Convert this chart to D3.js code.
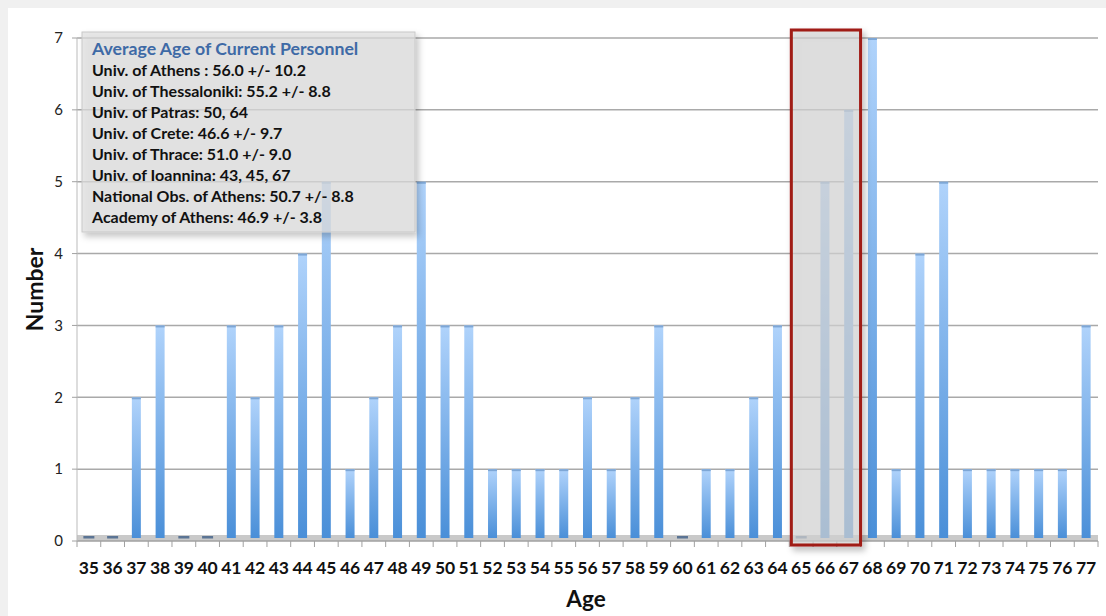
<!DOCTYPE html>
<html>
<head>
<meta charset="utf-8">
<script src="https://cdn.jsdelivr.net/npm/d3@7"></script>
<style>
  body { margin: 0; background: #f0f0f0; }
  svg { display: block; }
</style>
</head>
<body>
<svg id="chart" width="1106" height="616"></svg>
<script>
// ages on the x axis
var ages = d3.range(35, 78).map(String);
// number of personnel per age
var counts = [0, 0, 2, 3, 0, 0, 3, 2, 3, 4, 5, 1, 2, 3, 5, 3, 3, 1, 1, 1, 1, 2, 1, 2, 3, 0,
              1, 1, 2, 3, 0, 5, 6, 7, 1, 4, 5, 1, 1, 1, 1, 1, 3];
var yTicks = [0, 1, 2, 3, 4, 5, 6, 7];
var legendTitle = "Average Age of Current Personnel";
var legendLines = [
  "Univ. of Athens : 56.0 +/- 10.2",
  "Univ. of Thessaloniki: 55.2 +/- 8.8",
  "Univ. of Patras: 50, 64",
  "Univ. of Crete: 46.6 +/- 9.7",
  "Univ. of Thrace: 51.0 +/- 9.0",
  "Univ. of Ioannina: 43, 45, 67",
  "National Obs. of Athens: 50.7 +/- 8.8",
  "Academy of Athens: 46.9 +/- 3.8"
];
var highlight = ["65", "67"];

var data = ages.map(function(a, i){ return {age: a, n: counts[i]}; });

var svg = d3.select("#chart");
var font = "Lato, 'Open Sans', sans-serif";

// white card
svg.append("rect").attr("x", 8).attr("y", 8).attr("width", 1098).attr("height", 608).attr("fill", "#fff");

var margin = {top: 38, left: 77, right: 8, bottom: 75},
    width = 1106 - margin.left - margin.right,
    height = 616 - margin.top - margin.bottom;

var g = svg.append("g").attr("transform", "translate(" + margin.left + "," + margin.top + ")");

var x = d3.scaleBand().domain(ages).range([0, width]).paddingInner(0).paddingOuter(0);
var y = d3.scaleLinear().domain([0, 7]).range([height, 0]);

var defs = svg.append("defs");
var grad = defs.append("linearGradient").attr("id", "barGrad")
  .attr("x1", 0).attr("y1", 0).attr("x2", 0).attr("y2", 1);
grad.append("stop").attr("offset", "0%").attr("stop-color", "#b0d3fb");
grad.append("stop").attr("offset", "100%").attr("stop-color", "#4a8fd8");
var shadow = defs.append("filter").attr("id", "shadow").attr("x", "-10%").attr("y", "-10%").attr("width", "130%").attr("height", "130%");
shadow.append("feDropShadow").attr("dx", 3).attr("dy", 4).attr("stdDeviation", 3)
  .attr("flood-color", "#000").attr("flood-opacity", 0.3);

// gridlines
g.append("g").selectAll("line").data(yTicks.slice(1)).enter().append("line")
  .attr("x1", 0).attr("x2", width)
  .attr("y1", function(d){ return y(d); }).attr("y2", function(d){ return y(d); })
  .attr("stroke", "#a9a9a9").attr("stroke-width", 1.5);

// floor
g.append("rect").attr("x", 0).attr("y", height - 6).attr("width", width).attr("height", 6)
  .attr("fill", "#c9c9c9");

// bars
var bw = 9;
var bars = g.append("g").selectAll("g").data(data).enter().append("g");
bars.filter(function(d){ return d.n > 0; }).append("rect")
  .attr("x", function(d){ return x(d.age) + x.bandwidth() / 2 - bw / 2; })
  .attr("y", function(d){ return y(d.n); })
  .attr("width", bw)
  .attr("height", function(d){ return y(0) - y(d.n) - 3; })
  .attr("fill", "url(#barGrad)");
bars.filter(function(d){ return d.n > 0; }).append("rect")
  .attr("x", function(d){ return x(d.age) + x.bandwidth() / 2 - bw / 2; })
  .attr("y", function(d){ return y(d.n); })
  .attr("width", bw).attr("height", 2)
  .attr("fill", "#7ea7d6");
bars.filter(function(d){ return d.n == 0; }).append("rect")
  .attr("x", function(d){ return x(d.age) + x.bandwidth() / 2 - bw / 2 - 1; })
  .attr("y", y(0) - 5).attr("width", bw + 2).attr("height", 2.5)
  .attr("fill", "#5b7494");

// x axis
var xAxis = g.append("g").attr("transform", "translate(0," + height + ")");
xAxis.append("line").attr("x1", 0).attr("x2", width).attr("stroke", "#a0a0a0").attr("stroke-width", 1.5);
xAxis.selectAll(".tk").data(ages.concat(["end"])).enter().append("line")
  .attr("x1", function(d){ return d == "end" ? width : x(d); })
  .attr("x2", function(d){ return d == "end" ? width : x(d); })
  .attr("y1", 0).attr("y2", 6).attr("stroke", "#a0a0a0");
xAxis.selectAll("text").data(ages).enter().append("text")
  .attr("x", function(d){ return x(d) + x.bandwidth() / 2; })
  .attr("y", 33)
  .attr("text-anchor", "middle")
  .attr("font-family", font).attr("font-weight", "bold").attr("font-size", 17.5)
  .attr("fill", "#111")
  .text(function(d){ return d; });

// y axis
var yAxis = g.append("g");
yAxis.append("line").attr("x1", 0).attr("x2", 0).attr("y1", 0).attr("y2", height).attr("stroke", "#bbb");
yAxis.selectAll("line.tk").data(yTicks).enter().append("line")
  .attr("x1", -5).attr("x2", 0)
  .attr("y1", function(d){ return y(d); }).attr("y2", function(d){ return y(d); })
  .attr("stroke", "#a0a0a0");
yAxis.selectAll("text").data(yTicks).enter().append("text")
  .attr("x", -14).attr("y", function(d){ return y(d); }).attr("dy", "0.35em")
  .attr("text-anchor", "end")
  .attr("font-family", font).attr("font-size", 15).attr("fill", "#222")
  .text(function(d){ return d; });

// axis titles
svg.append("text").attr("transform", "translate(43," + (margin.top + height / 2) + ") rotate(-90)")
  .attr("text-anchor", "middle").attr("font-family", font).attr("font-weight", "bold")
  .attr("font-size", 23).attr("fill", "#111").text("Number");
svg.append("text").attr("x", 586).attr("y", 607)
  .attr("text-anchor", "middle").attr("font-family", font).attr("font-weight", "bold")
  .attr("font-size", 22.5).attr("fill", "#111").text("Age");

// highlight box
var hx0 = x(highlight[0]) + 2, hx1 = x(highlight[1]) + x.bandwidth();
g.append("rect").attr("x", hx0).attr("y", -8).attr("width", hx1 - hx0).attr("height", height + 12)
  .attr("fill", "#d9d9d9").attr("fill-opacity", 0.65)
  .attr("stroke", "#a01b12").attr("stroke-width", 3)
  .attr("filter", "url(#shadow)");

// legend box
var lg = svg.append("g").attr("transform", "translate(82,32)");
lg.append("rect").attr("width", 333).attr("height", 200)
  .attr("fill", "#e0e0e0").attr("fill-opacity", 0.7)
  .attr("stroke", "#c8c8c8")
  .attr("filter", "url(#shadow)");
lg.append("text").attr("x", 10).attr("y", 23)
  .attr("font-family", font).attr("font-weight", "bold").attr("font-size", 17.7)
  .attr("fill", "#3e6aa6").text(legendTitle);
lg.selectAll("text.l").data(legendLines).enter().append("text")
  .attr("class", "l")
  .attr("x", 10).attr("y", function(d, i){ return 44 + i * 21; })
  .attr("font-family", font).attr("font-weight", "bold").attr("font-size", 16)
  .attr("fill", "#111").text(function(d){ return d; });
</script>
</body>
</html>
